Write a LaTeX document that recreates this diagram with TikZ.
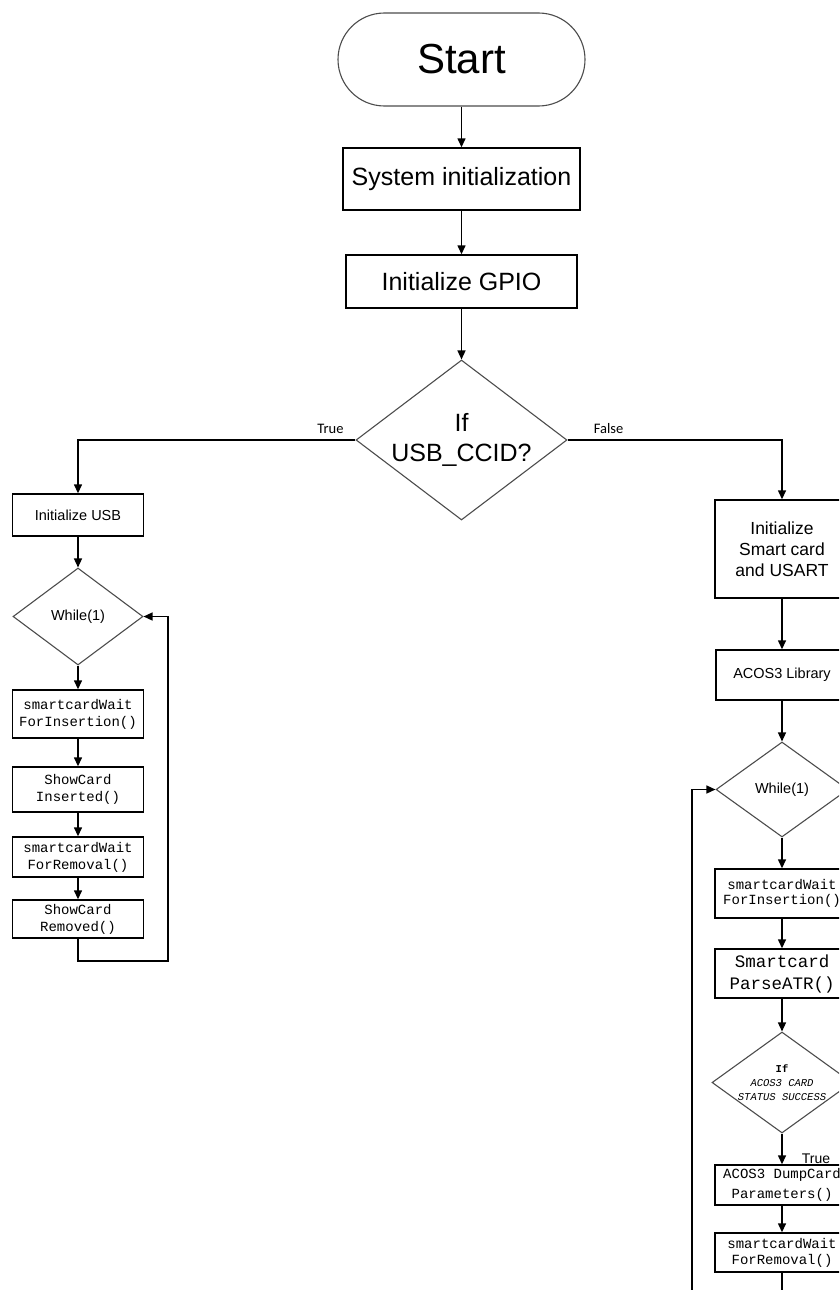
\documentclass[tikz,border=0pt]{standalone}
\usepackage{fontspec}
\setmainfont{Liberation Sans}
\setmonofont{Liberation Mono}
\newfontfamily\labelfont{Carlito}
\usetikzlibrary{arrows.meta,shapes.geometric}

\begin{document}
\begin{tikzpicture}[x=1pt,y=-1pt]
\useasboundingbox (0,0) rectangle (839,1290);
\clip (0,0) rectangle (839,1290);

\begin{scope}[every node/.style={align=center,inner sep=0pt},
              box/.style={rectangle,draw,line width=1.4pt},
              decision/.style={diamond,draw=black!70,line width=1.1pt},
              code/.style={font=\ttfamily\fontsize{14}{17}\selectfont}]
    % main trunk
    \node[box,draw=black!70,line width=1.1pt,rounded corners=46.5pt,
          minimum width=247pt,minimum height=93pt,
          font=\fontsize{42}{48}\selectfont] (start) at (461.5,59.5) {Start};
    \node[box,minimum width=237pt,minimum height=62pt,
          font=\fontsize{25}{30}\selectfont] (sysinit) at (461.5,179) {System initialization};
    \node[box,minimum width=231pt,minimum height=53pt,
          font=\fontsize{25}{30}\selectfont] (gpio) at (461.5,281.5) {Initialize GPIO};
    \node[decision,minimum width=211pt,minimum height=160pt,
          label={[font=\fontsize{25}{30}\selectfont,align=center]center:If\\USB\_CCID?}]
          (ifusb) at (461.5,440) {};
    \node[font=\labelfont\fontsize{14.5}{16}\selectfont] (truelbl) at (330.5,429) {True};
    \node[font=\labelfont\fontsize{14.5}{16}\selectfont] (falselbl) at (608.5,429) {False};

    % USB branch
    \node[box,minimum width=131pt,minimum height=42pt,
          font=\fontsize{14.5}{17}\selectfont] (initusb) at (78,515) {Initialize USB};
    \node[decision,minimum width=130pt,minimum height=97pt,
          label={[font=\fontsize{14.5}{17}\selectfont]center:While(1)}]
          (whileusb) at (78,616.5) {};
    \node[box,code,minimum width=131pt,minimum height=48pt] (waitinsusb) at (78,714)
          {smartcardWait\\ForInsertion()};
    \node[box,code,minimum width=131pt,minimum height=45pt] (showins) at (78,789.5)
          {ShowCard\\Inserted()};
    \node[box,code,minimum width=131pt,minimum height=40pt] (waitremusb) at (78,857)
          {smartcardWait\\ForRemoval()};
    \node[box,code,minimum width=131pt,minimum height=38pt] (showrem) at (78,919)
          {ShowCard\\Removed()};
    \coordinate (loopusb) at (168,961);

    % smart card branch
    \node[box,minimum width=134pt,minimum height=98pt,
          font=\fontsize{17.5}{21}\selectfont] (initsc) at (782,549)
          {Initialize\\Smart card\\and USART};
    \node[box,minimum width=132pt,minimum height=50pt,
          font=\fontsize{14.5}{17}\selectfont] (acos) at (782,675) {ACOS3 Library};
    \node[decision,minimum width=132pt,minimum height=95pt,
          label={[font=\fontsize{14.5}{17}\selectfont]center:While(1)}]
          (whilesc) at (782,789.5) {};
    \node[box,code,font=\ttfamily\fontsize{14}{15}\selectfont,
          minimum width=134pt,minimum height=49pt] (waitinssc) at (782,893.5)
          {smartcardWait\\ForInsertion()};
    \node[box,font=\ttfamily\fontsize{17.5}{22}\selectfont,
          minimum width=134pt,minimum height=49pt] (parse) at (782,973.5)
          {Smartcard\\ParseATR()};
    \node[decision,minimum width=140pt,minimum height=101pt,
          label={[font=\ttfamily\fontsize{10.5}{14}\selectfont,align=center]center:{\bfseries If}\\
                 {\itshape ACOS3 CARD}\\{\itshape STATUS SUCCESS}}]
          (ifacos) at (782,1082.5) {};
    \node[font=\fontsize{14}{16}\selectfont] (truesc) at (816,1159) {True};
    \node[box,code,font=\ttfamily\fontsize{14}{20}\selectfont,
          minimum width=134pt,minimum height=40pt] (dump) at (782,1185)
          {ACOS3 DumpCard\\Parameters()};
    \node[box,code,font=\ttfamily\fontsize{14}{16}\selectfont,
          minimum width=134pt,minimum height=39pt] (waitremsc) at (782,1252.5)
          {smartcardWait\\ForRemoval()};
    \coordinate (loopsc) at (692,1320);
\end{scope}

\begin{scope}[>={Triangle[length=9pt,width=8pt]},
              every path/.style={line width=1.4pt}]
    \draw [->] (start) -- (sysinit);
    \draw [->] (sysinit) -- (gpio);
    \draw [->] (gpio) -- (ifusb);
    \draw [->] (ifusb.west) -| (initusb.north);
    \draw [->] (ifusb.east) -| (initsc.north);

    \draw [->] (initusb) -- (whileusb);
    \draw [->] (whileusb) -- (waitinsusb);
    \draw [->] (waitinsusb) -- (showins);
    \draw [->] (showins) -- (waitremusb);
    \draw [->] (waitremusb) -- (showrem);
    \draw [->] (showrem.south) |- (loopusb) |- (whileusb.east);

    \draw [->] (initsc) -- (acos);
    \draw [->] (acos) -- (whilesc);
    \draw [->] (whilesc) -- (waitinssc);
    \draw [->] (waitinssc) -- (parse);
    \draw [->] (parse) -- (ifacos);
    \draw [->] (ifacos) -- (dump);
    \draw [->] (dump) -- (waitremsc);
    \draw [->] (waitremsc.south) |- (loopsc) |- (whilesc.west);
\end{scope}
\end{tikzpicture}
\end{document}
